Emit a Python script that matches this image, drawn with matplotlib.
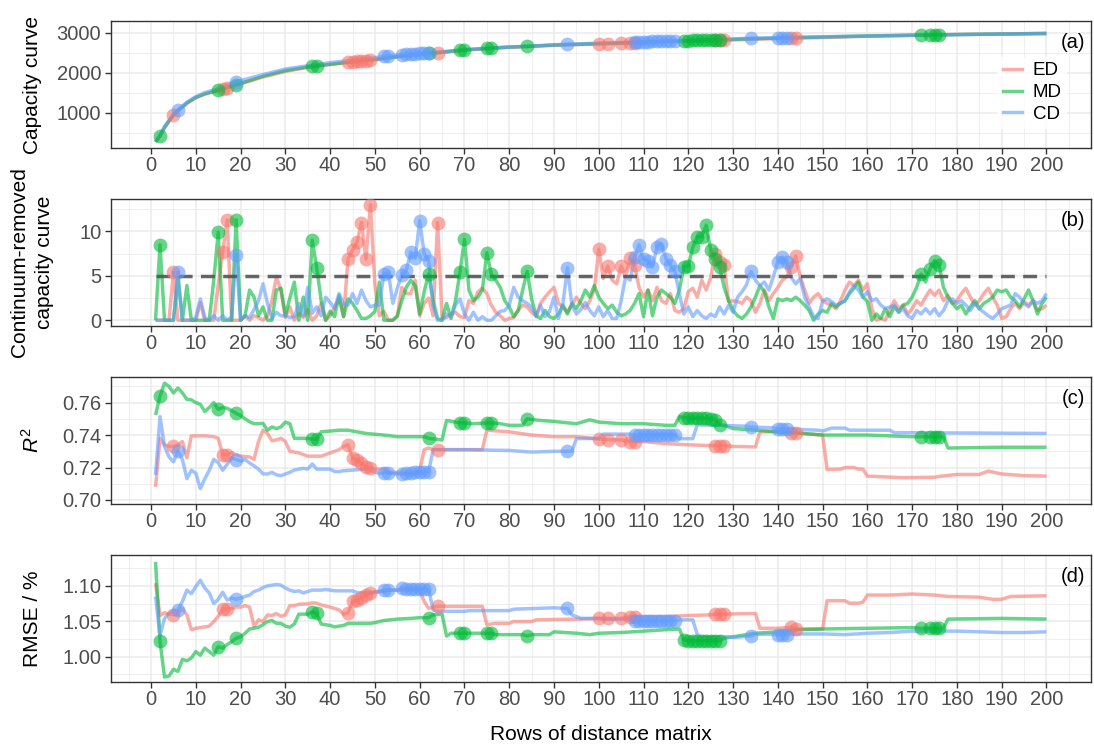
#!/usr/bin/env python3
"""Capacity curve, continuum-removed curve, R2 and RMSE against rows of the distance matrix."""
import matplotlib
matplotlib.use("Agg")
import matplotlib.pyplot as plt
from matplotlib.lines import Line2D
from matplotlib.ticker import FormatStrFormatter

plt.rcParams["font.family"] = ["Liberation Sans", "DejaVu Sans"]
plt.rcParams["mathtext.fontset"] = "custom"
plt.rcParams["mathtext.rm"] = "Liberation Sans"
plt.rcParams["mathtext.it"] = "Liberation Sans:italic"

SERIES = ["ED", "MD", "CD"]
COLORS = {"ED": "#F8766D", "MD": "#00BA38", "CD": "#619CFF"}
ROWS = list(range(1, 201))
THRESHOLD = 5

# rows whose continuum-removed value is above the threshold (drawn as points)
ED_PICKED = [5, 16, 17, 44, 45, 46, 47, 48, 49, 64, 100, 102, 105, 107, 108,
             126, 127, 128, 143, 144]
MD_PICKED = [2, 15, 19, 36, 37, 62, 69, 70, 75, 76, 84, 119, 120, 121, 122, 123,
             124, 125, 126, 127, 172, 174, 175, 176]
CD_PICKED = [6, 19, 52, 53, 56, 57, 58, 59, 60, 61, 62, 93, 108, 109, 110, 111,
             112, 113, 114, 115, 116, 117, 134, 140, 141, 142]

# (a) capacity curve, (row, value)
CAP_ED = [(1, 270), (2, 420), (3, 630), (4, 790), (5, 945), (6, 1050), (8, 1240),
          (10, 1380), (12, 1470), (15, 1560), (16, 1600), (17, 1635), (20, 1730),
          (25, 1900), (30, 2040), (35, 2140), (40, 2210), (44, 2265), (45, 2280),
          (46, 2290), (47, 2300), (48, 2310), (49, 2320), (55, 2400), (60, 2460),
          (64, 2500), (70, 2570), (80, 2640), (90, 2690), (100, 2725), (102, 2730),
          (105, 2740), (107, 2745), (108, 2748), (115, 2780), (120, 2800),
          (126, 2815), (127, 2818), (128, 2820), (135, 2845), (143, 2865),
          (144, 2868), (160, 2920), (180, 2960), (200, 2985)]
CAP_MD = [(1, 280), (2, 430), (3, 640), (4, 800), (5, 950), (6, 1060), (8, 1250),
          (10, 1390), (12, 1480), (15, 1570), (17, 1640), (19, 1700), (20, 1740),
          (25, 1920), (30, 2060), (36, 2170), (37, 2180), (40, 2220), (45, 2280),
          (50, 2340), (55, 2410), (60, 2470), (62, 2490), (65, 2520), (69, 2570),
          (70, 2580), (75, 2620), (76, 2625), (80, 2650), (84, 2665), (90, 2700),
          (100, 2735), (110, 2770), (119, 2810), (120, 2812), (121, 2815),
          (122, 2818), (123, 2820), (124, 2822), (125, 2825), (126, 2827),
          (127, 2830), (135, 2860), (145, 2890), (160, 2925), (172, 2950),
          (174, 2953), (175, 2955), (176, 2957), (190, 2975), (200, 2990)]
CAP_CD = [(1, 290), (2, 450), (3, 660), (4, 820), (5, 970), (6, 1075), (8, 1270),
          (10, 1410), (12, 1510), (15, 1610), (19, 1780), (20, 1810), (25, 1960),
          (30, 2100), (40, 2260), (50, 2380), (52, 2420), (53, 2430), (56, 2460),
          (57, 2470), (58, 2478), (59, 2486), (60, 2494), (61, 2500), (62, 2506),
          (70, 2580), (80, 2650), (93, 2720), (100, 2745), (108, 2775), (109, 2778),
          (110, 2782), (111, 2785), (112, 2788), (113, 2791), (114, 2794),
          (115, 2797), (116, 2800), (117, 2803), (125, 2830), (134, 2870),
          (140, 2880), (141, 2882), (142, 2884), (160, 2925), (180, 2960), (200, 2990)]

# (b) continuum-removed capacity curve, one value per row
CR_ED = [0, 0, 0, 0, 5.4, 0, 0, 0, 0, 0,
         2.0, 0, 0, 0, 4.0, 7.7, 11.3, 0, 0, 0,
         0.5, 0, 0.5, 0.3, 0, 0.5, 2.2, 4.9, 3.4, 0.3,
         1.5, 0, 0.8, 0.3, 1.2, 0, 0.5, 1.9, 0, 0.5,
         1.5, 2.5, 0.4, 6.9, 7.9, 8.8, 11.0, 6.9, 13.0, 4.0,
         0.5, 1.0, 0, 0, 0.4, 3.7, 3.0, 3.0, 4.5, 0.5,
         1.9, 2.5, 0.5, 11.0, 0.2, 0.3, 0.7, 0.9, 0.4, 0.3,
         2.2, 1.9, 3.2, 3.6, 3.0, 1.7, 0.9, 0.5, 0, 0.2,
         0.3, 1.1, 1.7, 1.5, 0.9, 0.5, 1.9, 2.6, 3.2, 3.7,
         1.9, 1.5, 0.9, 1.7, 2.6, 1.9, 1.3, 2.2, 3.4, 8.0,
         4.7, 6.1, 4.5, 4.1, 6.1, 4.9, 7.0, 6.2, 3.7, 2.6,
         3.4, 2.2, 3.7, 2.2, 1.9, 3.0, 1.1, 0.9, 1.3, 3.2,
         3.6, 2.6, 4.5, 3.4, 4.8, 7.5, 6.6, 6.2, 2.1, 2.2,
         2.1, 1.9, 2.6, 2.2, 0.9, 1.9, 3.4, 2.2, 3.0, 3.7,
         4.5, 4.9, 6.0, 7.2, 4.9, 3.4, 1.9, 2.6, 3.0, 2.2,
         1.9, 1.7, 1.3, 2.2, 3.4, 4.3, 3.9, 4.5, 3.4, 4.1,
         1.3, 0, 0.2, 0, 1.1, 2.2, 1.3, 1.7, 0.7, 1.3,
         2.2, 1.7, 2.6, 3.4, 2.8, 3.4, 2.2, 2.8, 1.9, 2.2,
         3.0, 3.6, 2.6, 1.7, 2.2, 3.0, 3.6, 2.6, 1.7, 0.2,
         0.4, 1.3, 1.9, 1.3, 2.1, 1.7, 2.2, 1.1, 1.3, 1.7]
CR_MD = [0, 8.5, 0, 0, 0, 4.8, 0, 3.9, 0, 0,
         0, 0, 0, 4.5, 9.9, 0, 0, 0, 11.3, 0,
         0.5, 3.4, 2.6, 0.5, 1.5, 0, 0, 3.4, 3.6, 0.5,
         2.5, 4.3, 0, 2.6, 0, 9.0, 5.9, 2.2, 0, 1.0,
         0.4, 2.8, 0.4, 2.4, 1.9, 1.1, 0.2, 0.2, 0.5, 1.0,
         4.3, 0, 0, 0, 0.5, 2.2, 3.7, 4.5, 3.9, 0.7,
         3.2, 5.2, 2.2, 0.2, 0, 1.9, 0.2, 2.2, 5.4, 9.1,
         3.4, 2.2, 2.6, 3.4, 7.6, 5.2, 4.5, 3.7, 2.2, 1.5,
         0.4, 1.1, 3.4, 5.5, 2.4, 0.5, 0.2, 1.1, 0.4, 0.2,
         0.7, 1.7, 0.7, 1.9, 1.3, 2.2, 3.4, 2.6, 3.9, 2.6,
         1.9, 1.3, 1.7, 0.9, 0.5, 0.7, 1.1, 1.9, 3.0, 0.4,
         3.4, 0.5, 2.6, 3.4, 3.0, 2.6, 1.9, 3.4, 6.0, 6.1,
         8.2, 9.4, 9.4, 10.7, 7.9, 6.9, 6.0, 3.7, 2.2, 1.1,
         0.5, 0.2, 0.7, 1.5, 2.6, 3.9, 3.2, 1.5, 0.2, 2.4,
         2.2, 2.4, 2.2, 2.6, 2.2, 1.7, 1.1, 0, 0.7, 1.1,
         0.9, 1.9, 1.5, 1.9, 2.2, 3.0, 3.6, 4.3, 2.6, 2.1,
         0, 0.7, 0.2, 1.3, 0.4, 1.5, 0.9, 1.7, 1.9, 2.6,
         3.7, 5.2, 4.3, 5.8, 6.7, 6.2, 3.7, 2.6, 1.9, 1.3,
         1.7, 0.7, 1.5, 2.2, 1.3, 1.9, 2.2, 2.6, 3.4, 3.2,
         3.4, 2.6, 2.2, 1.5, 2.4, 3.4, 2.2, 0.7, 1.9, 2.6]
CR_CD = [0, 0, 0, 0, 0, 5.4, 0, 0, 0, 0.3,
         2.4, 0.3, 0, 0.5, 0, 0.5, 0, 0.4, 7.3, 0,
         0.5, 0.3, 1.2, 2.2, 4.1, 1.9, 0.2, 0.9, 0.5, 0.5,
         0.3, 0.4, 1.9, 0.5, 3.7, 0.8, 1.5, 0.5, 2.6, 2.0,
         1.3, 3.0, 1.8, 1.7, 3.0, 1.9, 3.4, 2.2, 1.5, 1.7,
         1.7, 5.2, 5.4, 1.9, 3.6, 5.1, 5.6, 7.7, 7.0, 11.2,
         7.5, 6.7, 1.7, 0, 0, 0.7, 0.4, 1.7, 2.4, 0.7,
         0, 0.9, 0, 0.4, 0, 0, 0.5, 1.0, 1.1, 1.7,
         3.7, 2.6, 2.2, 1.9, 1.5, 0.4, 1.7, 0.4, 1.0, 2.6,
         0.2, 1.9, 5.9, 1.7, 0.7, 1.2, 2.0, 1.1, 0.5, 1.5,
         0.4, 1.1, 0.2, 0.2, 2.2, 4.9, 4.5, 7.1, 8.5, 6.9,
         6.7, 6.0, 8.3, 8.6, 6.9, 6.2, 5.5, 3.0, 0.7, 1.5,
         0.4, 1.1, 0.5, 0.2, 0.7, 0.4, 1.5, 0.7, 1.7, 0.9,
         2.6, 3.2, 4.0, 5.5, 4.5, 3.9, 4.3, 3.4, 4.9, 6.6,
         7.1, 6.6, 4.8, 4.1, 4.7, 2.6, 1.5, 0.4, 0.2, 2.2,
         2.4, 2.1, 1.7, 1.9, 2.2, 3.2, 3.9, 3.4, 2.6, 3.2,
         2.2, 2.4, 1.7, 1.3, 1.5, 1.7, 0.9, 1.3, 0.5, 0.2,
         1.1, 0.7, 1.3, 0.7, 1.3, 0.5, 1.1, 2.2, 2.4, 1.9,
         2.2, 1.7, 1.1, 1.9, 1.3, 0.9, 0.5, 0.2, 0.7, 1.3,
         1.5, 1.7, 3.0, 2.6, 1.9, 1.5, 2.2, 1.9, 2.2, 3.0]

# (c) R2, (row, value)
R2_ED = [(1, 0.708), (2, 0.738), (3, 0.734), (4, 0.733), (5, 0.733), (6, 0.734),
         (7, 0.736), (8, 0.726), (9, 0.7395), (12, 0.7395), (14, 0.739), (15, 0.738),
         (16, 0.728), (17, 0.728), (18, 0.729), (19, 0.728), (20, 0.727), (22, 0.7265),
         (23, 0.725), (24, 0.736), (25, 0.743), (26, 0.741), (27, 0.7365), (28, 0.737),
         (29, 0.738), (30, 0.736), (31, 0.730), (33, 0.729), (35, 0.727), (38, 0.727),
         (39, 0.728), (40, 0.729), (41, 0.730), (42, 0.731), (43, 0.733), (44, 0.734),
         (45, 0.726), (46, 0.7245), (47, 0.7225), (48, 0.7205), (49, 0.720), (50, 0.719),
         (52, 0.719), (53, 0.717), (56, 0.717), (57, 0.716), (59, 0.716), (60, 0.718),
         (61, 0.731), (62, 0.732), (63, 0.731), (64, 0.731), (74, 0.731), (75, 0.743),
         (80, 0.742), (85, 0.740), (90, 0.739), (95, 0.739), (100, 0.7375),
         (102, 0.7372), (105, 0.737), (107, 0.736), (108, 0.736), (110, 0.736),
         (115, 0.7347), (120, 0.734), (125, 0.7335), (126, 0.7335), (127, 0.7335),
         (128, 0.7335), (130, 0.733), (135, 0.7327), (136, 0.742), (140, 0.742),
         (143, 0.7412), (144, 0.7412), (150, 0.740), (151, 0.7188), (154, 0.719),
         (155, 0.720), (157, 0.720), (158, 0.719), (159, 0.719), (160, 0.7147),
         (168, 0.7137), (175, 0.714), (176, 0.7145), (180, 0.7157), (185, 0.7157),
         (187, 0.7178), (190, 0.716), (195, 0.715), (200, 0.7147)]
R2_MD = [(1, 0.7524), (2, 0.764), (3, 0.772), (4, 0.770), (5, 0.766), (6, 0.769),
         (7, 0.766), (8, 0.762), (9, 0.7617), (10, 0.760), (11, 0.759), (12, 0.7545),
         (13, 0.757), (14, 0.760), (15, 0.7559), (16, 0.757), (17, 0.7565), (18, 0.755),
         (19, 0.7534), (20, 0.752), (21, 0.750), (22, 0.7482), (23, 0.747), (24, 0.747),
         (25, 0.7472), (26, 0.743), (27, 0.745), (28, 0.744), (29, 0.745), (30, 0.748),
         (31, 0.747), (32, 0.738), (35, 0.738), (36, 0.7375), (37, 0.7375), (38, 0.742),
         (40, 0.7425), (42, 0.743), (44, 0.743), (46, 0.742), (48, 0.741), (52, 0.740),
         (55, 0.739), (61, 0.739), (62, 0.738), (65, 0.737), (66, 0.749), (68, 0.748),
         (69, 0.7475), (70, 0.7475), (72, 0.747), (75, 0.7475), (76, 0.7475),
         (78, 0.747), (80, 0.746), (83, 0.746), (84, 0.750), (87, 0.749), (90, 0.7484),
         (95, 0.747), (98, 0.7494), (100, 0.748), (105, 0.747), (110, 0.747),
         (115, 0.746), (117, 0.746), (118, 0.7514), (119, 0.7508), (120, 0.7505),
         (121, 0.7505), (122, 0.7505), (123, 0.7505), (124, 0.7505), (125, 0.750),
         (126, 0.7495), (127, 0.7465), (128, 0.746), (130, 0.744), (135, 0.743),
         (140, 0.742), (145, 0.7412), (150, 0.740), (160, 0.740), (170, 0.739),
         (172, 0.739), (174, 0.739), (175, 0.739), (176, 0.739), (177, 0.739),
         (178, 0.732), (190, 0.7325), (200, 0.7325)]
R2_CD = [(1, 0.7155), (2, 0.7513), (3, 0.733), (4, 0.7266), (5, 0.7235), (6, 0.730),
         (7, 0.725), (8, 0.7131), (9, 0.7183), (10, 0.7165), (11, 0.707), (12, 0.713),
         (13, 0.7183), (14, 0.725), (15, 0.723), (16, 0.7183), (17, 0.722), (18, 0.726),
         (19, 0.7249), (20, 0.724), (21, 0.725), (22, 0.7228), (23, 0.721), (24, 0.719),
         (25, 0.7161), (26, 0.716), (27, 0.717), (28, 0.7155), (29, 0.715), (30, 0.716),
         (31, 0.717), (32, 0.7185), (33, 0.719), (34, 0.7195), (35, 0.719), (36, 0.7222),
         (37, 0.719), (40, 0.719), (41, 0.7175), (42, 0.7175), (43, 0.718), (48, 0.719),
         (49, 0.7185), (50, 0.717), (51, 0.7165), (52, 0.7167), (53, 0.7167),
         (55, 0.716), (56, 0.716), (57, 0.7165), (58, 0.7165), (59, 0.717), (60, 0.717),
         (61, 0.717), (62, 0.7175), (63, 0.731), (70, 0.731), (80, 0.7305),
         (85, 0.7295), (90, 0.730), (93, 0.730), (94, 0.730), (95, 0.7378),
         (100, 0.738), (101, 0.7406), (107, 0.7406), (108, 0.7402), (109, 0.7402),
         (110, 0.7402), (111, 0.7402), (112, 0.7402), (113, 0.7402), (114, 0.7402),
         (115, 0.7402), (116, 0.7402), (117, 0.7402), (118, 0.7378), (121, 0.7378),
         (122, 0.7463), (133, 0.7455), (134, 0.7449), (139, 0.7445), (140, 0.7437),
         (141, 0.7437), (142, 0.7437), (149, 0.743), (150, 0.7425), (152, 0.7443),
         (155, 0.7443), (156, 0.743), (165, 0.743), (166, 0.7415), (200, 0.741)]

# (d) RMSE in %, (row, value)
RMSE_ED = [(1, 1.104), (2, 1.058), (3, 1.062), (4, 1.060), (5, 1.059), (6, 1.061),
           (7, 1.068), (8, 1.059), (9, 1.038), (10, 1.040), (11, 1.041), (12, 1.042),
           (13, 1.043), (14, 1.0495), (15, 1.057), (16, 1.067), (17, 1.067),
           (18, 1.068), (19, 1.070), (20, 1.070), (21, 1.072), (22, 1.070),
           (23, 1.043), (24, 1.052), (25, 1.0495), (26, 1.059), (27, 1.058),
           (28, 1.061), (29, 1.057), (30, 1.059), (31, 1.072), (32, 1.072),
           (33, 1.074), (35, 1.0745), (36, 1.076), (37, 1.0755), (38, 1.073),
           (40, 1.070), (41, 1.068), (42, 1.066), (43, 1.060), (44, 1.062),
           (45, 1.078), (46, 1.080), (47, 1.0835), (48, 1.087), (49, 1.0895),
           (50, 1.092), (52, 1.092), (53, 1.094), (60, 1.094), (61, 1.078),
           (62, 1.068), (63, 1.070), (64, 1.071), (74, 1.071), (75, 1.045),
           (76, 1.046), (77, 1.047), (80, 1.047), (81, 1.0495), (85, 1.0495),
           (86, 1.052), (95, 1.053), (100, 1.054), (102, 1.054), (105, 1.054),
           (107, 1.0566), (108, 1.0566), (115, 1.0566), (120, 1.058), (125, 1.059),
           (126, 1.060), (127, 1.060), (128, 1.060), (135, 1.061), (136, 1.040),
           (140, 1.040), (143, 1.0415), (144, 1.039), (150, 1.039), (151, 1.079),
           (155, 1.079), (156, 1.0755), (158, 1.0755), (159, 1.077), (160, 1.087),
           (165, 1.087), (170, 1.0885), (175, 1.087), (178, 1.085), (185, 1.084),
           (188, 1.081), (190, 1.081), (192, 1.085), (200, 1.086)]
RMSE_MD = [(1, 1.134), (2, 1.0215), (3, 0.971), (4, 0.9725), (5, 0.982), (6, 0.979),
           (7, 0.996), (8, 0.994), (9, 0.998), (10, 1.007), (11, 1.002), (12, 1.012),
           (13, 1.007), (14, 1.002), (15, 1.014), (16, 1.012), (17, 1.017),
           (18, 1.021), (19, 1.026), (20, 1.028), (21, 1.033), (22, 1.039),
           (23, 1.040), (24, 1.0415), (25, 1.045), (26, 1.0495), (27, 1.051),
           (28, 1.047), (29, 1.047), (30, 1.043), (31, 1.0415), (32, 1.046),
           (33, 1.060), (35, 1.060), (36, 1.063), (37, 1.061), (38, 1.046),
           (40, 1.044), (41, 1.042), (43, 1.044), (44, 1.047), (49, 1.047),
           (50, 1.048), (52, 1.051), (55, 1.053), (58, 1.054), (60, 1.055),
           (62, 1.055), (63, 1.059), (65, 1.060), (66, 1.029), (67, 1.033),
           (69, 1.033), (70, 1.033), (75, 1.033), (76, 1.033), (77, 1.031),
           (83, 1.031), (84, 1.029), (85, 1.031), (89, 1.031), (90, 1.035),
           (95, 1.033), (98, 1.031), (100, 1.033), (105, 1.034), (110, 1.036),
           (115, 1.038), (118, 1.039), (119, 1.0236), (120, 1.0225), (121, 1.0225),
           (122, 1.0225), (123, 1.0225), (124, 1.0225), (125, 1.0225), (126, 1.0225),
           (127, 1.0225), (128, 1.026), (130, 1.028), (135, 1.033), (140, 1.035),
           (145, 1.038), (150, 1.039), (160, 1.040), (170, 1.041), (172, 1.040),
           (174, 1.040), (175, 1.040), (176, 1.040), (177, 1.040), (178, 1.053),
           (190, 1.054), (200, 1.053)]
RMSE_CD = [(1, 1.085), (2, 1.030), (3, 1.054), (4, 1.061), (5, 1.065), (6, 1.066),
           (7, 1.078), (8, 1.094), (9, 1.089), (10, 1.099), (11, 1.108), (12, 1.097),
           (13, 1.090), (14, 1.075), (15, 1.081), (16, 1.091), (17, 1.080),
           (18, 1.083), (19, 1.081), (20, 1.083), (21, 1.085), (22, 1.087),
           (23, 1.092), (24, 1.094), (25, 1.0976), (26, 1.100), (27, 1.101),
           (28, 1.102), (29, 1.101), (30, 1.097), (31, 1.094), (32, 1.092),
           (33, 1.093), (34, 1.090), (35, 1.092), (36, 1.094), (38, 1.094),
           (39, 1.095), (40, 1.094), (41, 1.093), (45, 1.093), (46, 1.0905),
           (50, 1.0905), (51, 1.092), (52, 1.094), (53, 1.094), (55, 1.094),
           (56, 1.097), (57, 1.096), (58, 1.096), (59, 1.096), (60, 1.096),
           (61, 1.096), (62, 1.095), (63, 1.066), (64, 1.064), (70, 1.064),
           (71, 1.065), (80, 1.065), (81, 1.067), (90, 1.069), (93, 1.068),
           (94, 1.059), (95, 1.0566), (96, 1.054), (100, 1.054), (101, 1.053),
           (107, 1.053), (108, 1.051), (109, 1.051), (110, 1.051), (111, 1.051),
           (112, 1.051), (113, 1.051), (114, 1.051), (115, 1.051), (116, 1.051),
           (117, 1.051), (118, 1.052), (121, 1.052), (122, 1.031), (123, 1.028),
           (129, 1.028), (130, 1.027), (134, 1.029), (135, 1.0315), (139, 1.0315),
           (140, 1.031), (141, 1.031), (142, 1.031), (145, 1.032), (150, 1.032),
           (155, 1.031), (160, 1.033), (165, 1.034), (170, 1.036), (180, 1.036),
           (185, 1.035), (190, 1.034), (195, 1.034), (200, 1.035)]

PICKED = {"ED": ED_PICKED, "MD": MD_PICKED, "CD": CD_PICKED}

FIG_W, FIG_H = 1094, 752
LEFT_PX, WIDTH_PX, PANEL_H_PX = 111, 980, 127
PANEL_TOPS_PX = [21, 199, 377, 555]
LINE_W = 2.5
ALPHA = 0.6
TICK_GREY = "#4D4D4D"
FRAME = "#333333"


def draw_series(ax, data):
    for name in SERIES:
        xs, ys = zip(*data[name])
        ax.plot(xs, ys, color=COLORS[name], lw=LINE_W, alpha=ALPHA,
                solid_joinstyle="round", solid_capstyle="butt", zorder=2)


def draw_points(ax, data):
    for name in SERIES:
        lookup = dict(data[name])
        px = PICKED[name]
        py = [lookup[r] for r in px]
        ax.scatter(px, py, s=100, color=COLORS[name], alpha=ALPHA, linewidths=0, zorder=4)


def style(ax, ylim, major, minor, fmt, tag):
    ax.set_xlim(-8.95, 209.95)
    ax.set_ylim(*ylim)
    ax.set_xticks(range(0, 201, 10))
    ax.set_xticks(range(-5, 210, 10), minor=True)
    ax.set_yticks(major)
    ax.set_yticks(minor, minor=True)
    ax.yaxis.set_major_formatter(FormatStrFormatter(fmt))
    ax.grid(which="major", color="#EBEBEB", lw=1.1)
    ax.grid(which="minor", color="#EBEBEB", lw=0.55)
    ax.set_axisbelow(True)
    ax.tick_params(which="minor", length=0)
    ax.tick_params(which="major", length=4, width=1.0, color=FRAME,
                   labelsize=14.5, labelcolor=TICK_GREY)
    ax.tick_params(axis="x", pad=2)
    ax.tick_params(axis="y", pad=3)
    for sp in ax.spines.values():
        sp.set_color(FRAME)
        sp.set_linewidth(1.0)
    ax.text(0.982, 0.827, tag, transform=ax.transAxes, ha="center", va="center",
            fontsize=14.5, color="black")


fig = plt.figure(figsize=(FIG_W / 100, FIG_H / 100), dpi=100)
axes = [fig.add_axes([LEFT_PX / FIG_W, 1 - (top + PANEL_H_PX) / FIG_H,
                      WIDTH_PX / FIG_W, PANEL_H_PX / FIG_H]) for top in PANEL_TOPS_PX]
ax_a, ax_b, ax_c, ax_d = axes

# (a)
cap = {"ED": CAP_ED, "MD": CAP_MD, "CD": CAP_CD}
draw_series(ax_a, cap)
draw_points(ax_a, cap)
style(ax_a, (125, 3300), [1000, 2000, 3000], [500, 1500, 2500], "%d", "(a)")
handles = [Line2D([], [], color=COLORS[n], lw=LINE_W, alpha=ALPHA) for n in SERIES]
leg = ax_a.legend(handles, SERIES, loc="upper right", bbox_to_anchor=(0.976, 0.72),
                  fontsize=13.5, handlelength=1.0, handletextpad=0.6, labelspacing=0.25,
                  borderpad=0.3, borderaxespad=0, frameon=True, fancybox=False)
leg.get_frame().set_facecolor("white")
leg.get_frame().set_edgecolor("none")

# (b)
cr = {"ED": list(zip(ROWS, CR_ED)), "MD": list(zip(ROWS, CR_MD)), "CD": list(zip(ROWS, CR_CD))}
draw_series(ax_b, cr)
ax_b.plot([ROWS[0], ROWS[-1]], [THRESHOLD, THRESHOLD], color="#555555", lw=LINE_W,
          dashes=(4.0, 2.4), alpha=0.9, zorder=3)
draw_points(ax_b, cr)
style(ax_b, (-0.65, 13.65), [0, 5, 10], [2.5, 7.5, 12.5], "%d", "(b)")

# (c)
r2 = {"ED": R2_ED, "MD": R2_MD, "CD": R2_CD}
draw_series(ax_c, r2)
draw_points(ax_c, r2)
style(ax_c, (0.6975, 0.7758), [0.70, 0.72, 0.74, 0.76], [0.71, 0.73, 0.75, 0.77], "%.2f", "(c)")

# (d)
rmse = {"ED": RMSE_ED, "MD": RMSE_MD, "CD": RMSE_CD}
draw_series(ax_d, rmse)
draw_points(ax_d, rmse)
style(ax_d, (0.964, 1.1437), [1.00, 1.05, 1.10], [0.975, 1.025, 1.075, 1.125], "%.2f", "(d)")

ylabels = ["Capacity curve", "Continuum-removed\ncapacity curve", r"$R^2$", "RMSE / %"]
for top, label in zip(PANEL_TOPS_PX, ylabels):
    fig.text(32 / FIG_W, 1 - (top + PANEL_H_PX / 2) / FIG_H, label, rotation=90,
             ha="center", va="center", fontsize=15, linespacing=1.35)

fig.text((LEFT_PX + WIDTH_PX / 2) / FIG_W, 1 - 735 / FIG_H, "Rows of distance matrix",
         ha="center", va="center", fontsize=15)

fig.savefig("out.png", dpi=100)
plt.close(fig)
